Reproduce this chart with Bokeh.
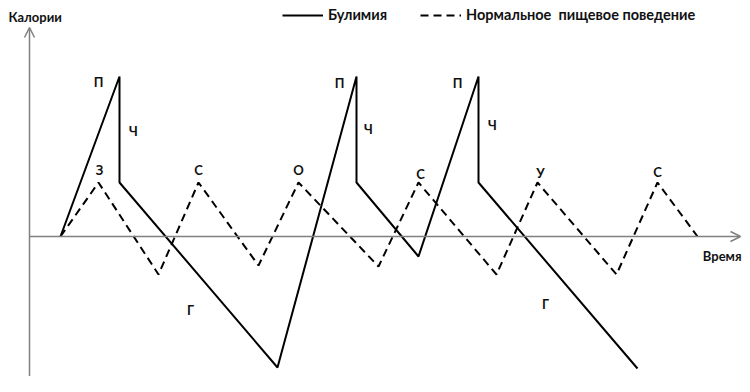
from bokeh.plotting import figure
from bokeh.models import Range1d, Arrow, OpenHead, Legend, LegendItem, ColumnDataSource
from bokeh.embed import file_html
from bokeh.resources import INLINE
from bokeh.core.properties import value

# Time (arbitrary units) and calories (relative to baseline, arbitrary units)
bulimia_t = [0, 2.95, 2.95, 10.85, 14.8, 14.8, 17.9, 20.9, 20.9, 28.85]
bulimia_cal = [0, 16.0, 5.4, -13.1, 16.0, 5.4, -2.0, 16.0, 5.4, -13.2]

normal_t = [0, 1.9, 4.9, 6.9, 9.9, 11.9, 15.9, 17.9, 21.8, 23.85, 27.8, 29.85, 31.85]
normal_cal = [0, 5.4, -3.8, 5.4, -2.9, 5.4, -3.0, 5.4, -3.8, 5.4, -3.8, 5.4, 0]

label_text = ["П", "Ч", "З", "С", "О", "П", "Ч", "С", "П", "Ч", "У", "С", "Г", "Г"]
label_t = [1.9, 3.65, 1.95, 6.9, 11.9, 13.95, 15.4, 18.0, 19.85, 21.6, 24.0, 29.85, 6.5, 24.25]
label_cal = [15.5, 10.6, 6.7, 6.7, 6.7, 15.4, 10.8, 6.3, 15.4, 11.2, 6.4, 6.5, -7.3, -6.7]

series_names = ["Булимия", "Нормальное  пищевое поведение"]
x_title = "Время"
y_title = "Калории"

FONT = "Lato"
AXIS_COLOR = "#808080"
TEXT_COLOR = "#111111"

p = figure(width=742, height=376, output_backend="svg", toolbar_location=None,
           x_range=Range1d(-3.0, 34.1), y_range=Range1d(-14.0, 23.6),
           x_axis_location=None, y_axis_location=None, min_border=0)
p.grid.visible = False
p.outline_line_color = None

# axes with open arrow heads
p.add_layout(Arrow(end=OpenHead(size=10, line_color=AXIS_COLOR, line_width=1.5),
                   x_start=-1.55, y_start=-16, x_end=-1.55, y_end=20.9,
                   line_color=AXIS_COLOR, line_width=1.5))
p.add_layout(Arrow(end=OpenHead(size=10, line_color=AXIS_COLOR, line_width=1.5),
                   x_start=-1.55, y_start=0, x_end=34.0, y_end=0,
                   line_color=AXIS_COLOR, line_width=1.5))

r1 = p.line(bulimia_t, bulimia_cal, line_color="black", line_width=2)
r2 = p.line(normal_t, normal_cal, line_color="black", line_width=2, line_dash="8 5")

src = ColumnDataSource(dict(x=label_t, y=label_cal, t=label_text))
p.text(x="x", y="y", text="t", source=src, text_font=value(FONT), text_font_style="bold",
       text_font_size="13px", text_align="center", text_baseline="middle", text_color=TEXT_COLOR)

p.text(x=[-2.6], y=[22.0], text=[y_title], text_font=value(FONT), text_font_style="bold",
       text_font_size="13px", text_align="left", text_baseline="middle", text_color=TEXT_COLOR)
p.text(x=[34.05], y=[-1.9], text=[x_title], text_font=value(FONT), text_font_style="bold",
       text_font_size="13px", text_align="right", text_baseline="middle", text_color=TEXT_COLOR)

legend = Legend(items=[LegendItem(label=series_names[0], renderers=[r1]),
                       LegendItem(label=series_names[1], renderers=[r2])],
                orientation="horizontal", location=(282, 353),
                glyph_width=41, glyph_height=16, label_height=16, label_standoff=5,
                spacing=33, padding=0, margin=0, border_line_alpha=0,
                background_fill_alpha=0, label_text_font=FONT,
                label_text_font_style="bold", label_text_font_size="14.5px",
                label_text_color=TEXT_COLOR)
p.add_layout(legend)

open("out.html", "w").write(file_html(p, INLINE))
